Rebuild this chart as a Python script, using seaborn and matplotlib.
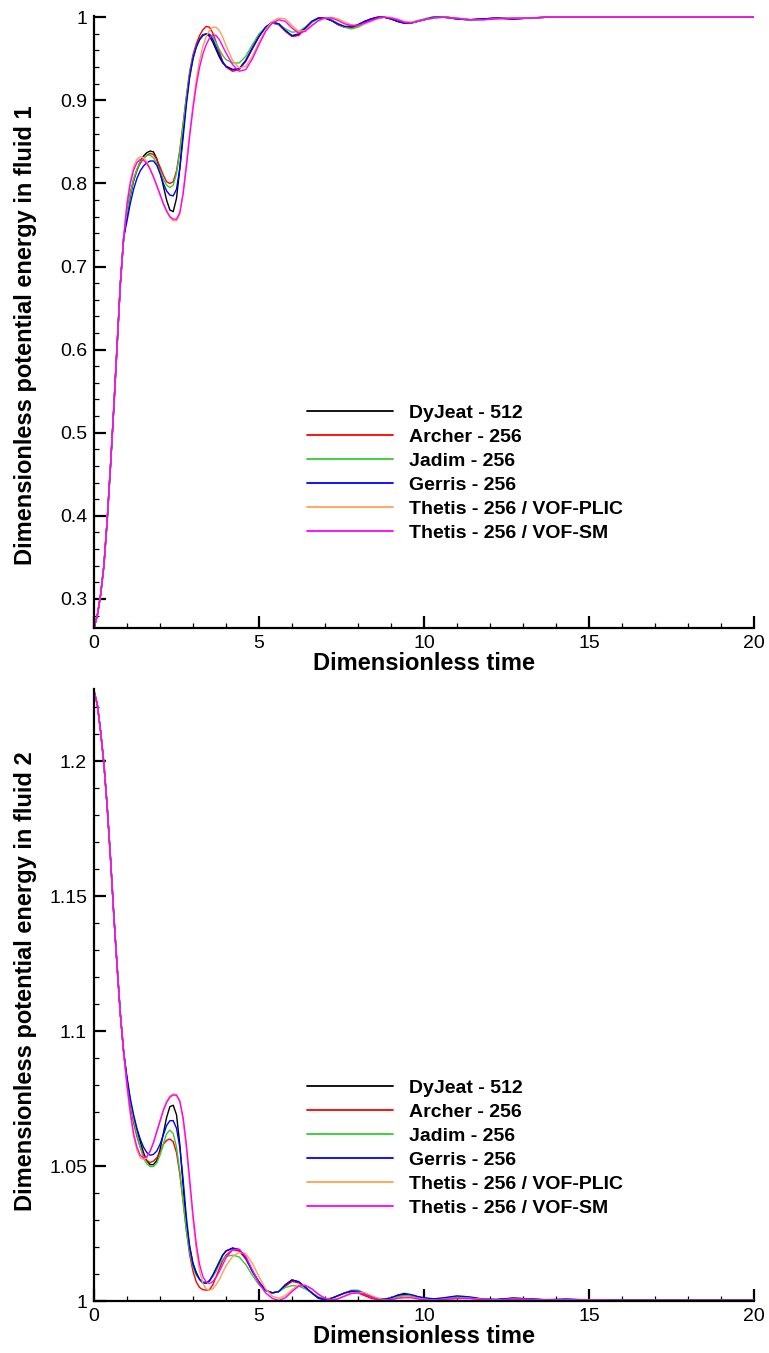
import pandas as pd
import matplotlib
matplotlib.use("Agg")
import matplotlib.pyplot as plt
import seaborn as sns
from matplotlib.ticker import MultipleLocator, FuncFormatter

sns.set_theme(style="ticks")
plt.rcParams["font.family"] = ["Liberation Sans", "DejaVu Sans"]
plt.rcParams["text.color"] = "black"
plt.rcParams["axes.labelcolor"] = "black"
plt.rcParams["xtick.color"] = "black"
plt.rcParams["ytick.color"] = "black"

# time grid (shared by all series)
t_rise = [0.0, 0.1, 0.2, 0.3, 0.4, 0.5, 0.6, 0.7, 0.8, 0.9]
t_osc = [1.0, 1.1, 1.2, 1.3, 1.4, 1.5, 1.6, 1.7, 1.8, 1.9,
         2.0, 2.1, 2.2, 2.3, 2.4, 2.5, 2.6, 2.7, 2.8, 2.9,
         3.0, 3.1, 3.2, 3.3, 3.4, 3.5, 3.6, 3.7, 3.8, 3.9, 4.0]
t_late = [4.2, 4.4, 4.6, 4.8, 5.0, 5.2, 5.4, 5.6, 5.8, 6.0,
          6.2, 6.4, 6.6, 6.8, 7.0, 7.2, 7.4, 7.6, 7.8, 8.0,
          8.2, 8.4, 8.6, 8.8, 9.0, 9.2, 9.4, 9.6, 9.8]
t_tail = [10.0, 10.3, 10.6, 11.0, 11.4, 11.8, 12.2, 12.7, 13.2, 13.7,
          14.3, 15.0, 16.0, 17.0, 18.0, 19.0, 20.0]
time = t_rise + t_osc + t_late + t_tail

labels = ["DyJeat - 512", "Archer - 256", "Jadim - 256", "Gerris - 256",
          "Thetis - 256 / VOF-PLIC", "Thetis - 256 / VOF-SM"]
colors = ["black", "#ff0000", "#33cc33", "#0000ff", "#ffa050", "#ff00ff"]

# ---------------- fluid 1 ----------------
rise1 = [0.265, 0.28, 0.305, 0.34, 0.395, 0.46, 0.53, 0.605, 0.68, 0.735]

f1_dyjeat = rise1 + [
    0.762, 0.785, 0.803, 0.816, 0.826, 0.833, 0.837, 0.839, 0.838, 0.830,
    0.815, 0.797, 0.780, 0.768, 0.766, 0.782, 0.818, 0.862, 0.900, 0.930,
    0.951, 0.965, 0.974, 0.979, 0.980, 0.977, 0.970, 0.961, 0.952, 0.945, 0.941] + [
    0.937, 0.938, 0.948, 0.963, 0.977, 0.988, 0.994, 0.992, 0.984, 0.977,
    0.979, 0.987, 0.995, 0.999, 0.999, 0.996, 0.991, 0.988, 0.988, 0.991,
    0.995, 0.998, 1.0, 1.0, 0.998, 0.995, 0.993, 0.993, 0.995] + [
    0.997, 1.0, 1.001, 0.998, 0.997, 0.998, 0.999, 0.998, 0.999, 1.0,
    1.0, 1.0, 1.0, 1.0, 1.0, 1.0, 1.0]

f1_archer = rise1 + [
    0.765, 0.788, 0.805, 0.816, 0.824, 0.830, 0.834, 0.836, 0.835, 0.829,
    0.820, 0.810, 0.802, 0.800, 0.802, 0.815, 0.840, 0.872, 0.905, 0.935,
    0.955, 0.968, 0.978, 0.985, 0.989, 0.988, 0.981, 0.970, 0.958, 0.947, 0.940] + [
    0.935, 0.937, 0.947, 0.962, 0.977, 0.988, 0.993, 0.991, 0.983, 0.977,
    0.978, 0.986, 0.994, 0.999, 0.999, 0.996, 0.991, 0.988, 0.987, 0.990,
    0.994, 0.998, 1.0, 1.0, 0.998, 0.995, 0.993, 0.993, 0.995] + [
    0.997, 1.0, 1.0, 0.998, 0.997, 0.998, 0.999, 0.998, 0.999, 1.0,
    1.0, 1.0, 1.0, 1.0, 1.0, 1.0, 1.0]

f1_jadim = rise1 + [
    0.765, 0.787, 0.805, 0.817, 0.826, 0.831, 0.834, 0.834, 0.831, 0.824,
    0.815, 0.805, 0.798, 0.795, 0.798, 0.812, 0.838, 0.870, 0.903, 0.932,
    0.952, 0.965, 0.973, 0.978, 0.980, 0.980, 0.976, 0.969, 0.961, 0.954, 0.949] + [
    0.945, 0.945, 0.953, 0.967, 0.980, 0.988, 0.993, 0.992, 0.986, 0.982,
    0.983, 0.988, 0.994, 0.998, 0.999, 0.997, 0.992, 0.988, 0.986, 0.988,
    0.992, 0.996, 0.999, 1.0, 0.999, 0.996, 0.994, 0.994, 0.996] + [
    0.998, 1.001, 1.001, 0.998, 0.996, 0.997, 0.999, 0.999, 0.999, 1.0,
    1.0, 1.0, 1.0, 1.0, 1.0, 1.0, 1.0]

f1_gerris = rise1 + [
    0.755, 0.776, 0.793, 0.806, 0.815, 0.821, 0.825, 0.827, 0.827, 0.822,
    0.812, 0.800, 0.791, 0.786, 0.785, 0.793, 0.818, 0.855, 0.895, 0.928,
    0.950, 0.964, 0.973, 0.978, 0.980, 0.979, 0.973, 0.964, 0.954, 0.946, 0.941] + [
    0.937, 0.938, 0.948, 0.963, 0.977, 0.988, 0.994, 0.992, 0.984, 0.978,
    0.980, 0.987, 0.995, 0.999, 0.999, 0.996, 0.992, 0.989, 0.989, 0.991,
    0.995, 0.998, 1.0, 1.0, 0.998, 0.995, 0.993, 0.993, 0.995] + [
    0.997, 1.0, 1.0, 0.998, 0.997, 0.998, 0.999, 0.998, 0.999, 1.0,
    1.0, 1.0, 1.0, 1.0, 1.0, 1.0, 1.0]

f1_plic = rise1 + [
    0.778, 0.803, 0.820, 0.829, 0.832, 0.831, 0.826, 0.818, 0.808, 0.797,
    0.786, 0.775, 0.766, 0.759, 0.755, 0.755, 0.763, 0.790, 0.825, 0.862,
    0.895, 0.925, 0.948, 0.965, 0.977, 0.984, 0.988, 0.988, 0.984, 0.976, 0.966] + [
    0.948, 0.939, 0.941, 0.953, 0.970, 0.985, 0.995, 0.999, 0.998, 0.990,
    0.983, 0.984, 0.990, 0.996, 0.999, 1.0, 0.998, 0.994, 0.991, 0.990,
    0.992, 0.995, 0.998, 1.0, 1.0, 0.998, 0.995, 0.994, 0.995] + [
    0.997, 0.999, 1.0, 0.999, 0.997, 0.997, 0.998, 0.999, 0.999, 1.0,
    1.0, 1.0, 1.0, 1.0, 1.0, 1.0, 1.0]

f1_sm = rise1 + [
    0.775, 0.800, 0.816, 0.825, 0.829, 0.828, 0.824, 0.817, 0.808, 0.798,
    0.787, 0.776, 0.767, 0.760, 0.757, 0.757, 0.765, 0.787, 0.820, 0.857,
    0.890, 0.918, 0.940, 0.956, 0.967, 0.975, 0.979, 0.978, 0.973, 0.965, 0.957] + [
    0.943, 0.935, 0.937, 0.950, 0.967, 0.983, 0.993, 0.997, 0.995, 0.987,
    0.981, 0.983, 0.990, 0.996, 0.999, 0.999, 0.996, 0.992, 0.990, 0.990,
    0.993, 0.996, 0.999, 1.0, 0.999, 0.997, 0.994, 0.993, 0.995] + [
    0.997, 0.999, 1.0, 0.999, 0.997, 0.997, 0.998, 0.999, 0.999, 1.0,
    1.0, 1.0, 1.0, 1.0, 1.0, 1.0, 1.0]

# ---------------- fluid 2 ----------------
rise2 = [1.226, 1.221, 1.211, 1.199, 1.183, 1.164, 1.143, 1.124, 1.106, 1.092]

f2_dyjeat = rise2 + [
    1.082, 1.074, 1.068, 1.063, 1.059, 1.055, 1.052, 1.0505, 1.0505, 1.052,
    1.056, 1.062, 1.068, 1.072, 1.0725, 1.069, 1.058, 1.043, 1.028, 1.020,
    1.014, 1.0105, 1.008, 1.0067, 1.0066, 1.0075, 1.0095, 1.012, 1.0145, 1.017, 1.0185] + [
    1.0196, 1.019, 1.016, 1.011, 1.007, 1.004, 1.003, 1.0035, 1.006, 1.0078,
    1.007, 1.005, 1.003, 1.001, 1.0005, 1.001, 1.002, 1.003, 1.0037, 1.0035,
    1.0025, 1.0015, 1.0007, 1.0005, 1.001, 1.002, 1.0025, 1.002, 1.0015] + [
    1.001, 1.0006, 1.0008, 1.0015, 1.0012, 1.0006, 1.0005, 1.001, 1.0007, 1.0004,
    1.0006, 1.0004, 1.0003, 1.0003, 1.0003, 1.0003, 1.0003]

f2_archer = rise2 + [
    1.081, 1.073, 1.066, 1.061, 1.057, 1.054, 1.052, 1.0513, 1.0518, 1.053,
    1.055, 1.058, 1.0595, 1.060, 1.059, 1.055, 1.047, 1.037, 1.026, 1.017,
    1.011, 1.007, 1.005, 1.0042, 1.004, 1.0042, 1.006, 1.009, 1.012, 1.015, 1.017] + [
    1.019, 1.0185, 1.0155, 1.011, 1.007, 1.004, 1.003, 1.0035, 1.0055, 1.0072,
    1.0068, 1.005, 1.003, 1.0012, 1.0005, 1.001, 1.002, 1.003, 1.0033, 1.003,
    1.002, 1.001, 1.0005, 1.0005, 1.001, 1.0018, 1.002, 1.0018, 1.0012] + [
    1.0007, 1.0004, 1.0006, 1.0012, 1.001, 1.0005, 1.0004, 1.0008, 1.0005, 1.0003,
    1.0004, 1.0003, 1.0002, 1.0002, 1.0002, 1.0002, 1.0002]

f2_jadim = rise2 + [
    1.082, 1.074, 1.067, 1.062, 1.057, 1.053, 1.0508, 1.0498, 1.0498, 1.051,
    1.054, 1.058, 1.062, 1.0633, 1.062, 1.057, 1.048, 1.037, 1.026, 1.018,
    1.0125, 1.0095, 1.008, 1.0072, 1.007, 1.0075, 1.009, 1.011, 1.0135, 1.0155, 1.0165] + [
    1.017, 1.0163, 1.0135, 1.0095, 1.006, 1.0038, 1.003, 1.0035, 1.005, 1.0057,
    1.0055, 1.0045, 1.003, 1.0015, 1.0008, 1.001, 1.002, 1.003, 1.004, 1.004,
    1.003, 1.0018, 1.001, 1.0008, 1.001, 1.0015, 1.002, 1.002, 1.0015] + [
    1.001, 1.0007, 1.001, 1.0016, 1.0012, 1.0006, 1.0005, 1.001, 1.0007, 1.0004,
    1.0005, 1.0004, 1.0003, 1.0003, 1.0003, 1.0003, 1.0003]

f2_gerris = rise2 + [
    1.083, 1.075, 1.069, 1.064, 1.060, 1.057, 1.055, 1.054, 1.0543, 1.0555,
    1.058, 1.0615, 1.065, 1.0668, 1.0668, 1.064, 1.057, 1.045, 1.031, 1.020,
    1.0135, 1.0102, 1.008, 1.0068, 1.0066, 1.0075, 1.0095, 1.012, 1.0145, 1.017, 1.0185] + [
    1.0196, 1.019, 1.016, 1.011, 1.007, 1.004, 1.003, 1.0035, 1.006, 1.0078,
    1.0072, 1.0052, 1.003, 1.0012, 1.0006, 1.001, 1.002, 1.003, 1.0037, 1.0036,
    1.0027, 1.0017, 1.0009, 1.0007, 1.0012, 1.0022, 1.0028, 1.0024, 1.0017] + [
    1.0012, 1.0008, 1.0012, 1.0019, 1.0015, 1.0007, 1.0006, 1.0011, 1.0008, 1.0005,
    1.0007, 1.0004, 1.0003, 1.0003, 1.0003, 1.0003, 1.0003]

f2_plic = rise2 + [
    1.079, 1.069, 1.061, 1.056, 1.053, 1.0525, 1.053, 1.0555, 1.059, 1.063,
    1.067, 1.071, 1.074, 1.076, 1.0767, 1.0765, 1.074, 1.067, 1.056, 1.043,
    1.030, 1.019, 1.011, 1.0065, 1.0045, 1.004, 1.0045, 1.006, 1.008, 1.0105, 1.013] + [
    1.0165, 1.018, 1.0175, 1.014, 1.009, 1.0045, 1.0018, 1.001, 1.002, 1.0042,
    1.0058, 1.0058, 1.0045, 1.0025, 1.001, 1.0005, 1.001, 1.002, 1.003, 1.0032,
    1.003, 1.002, 1.001, 1.0005, 1.0005, 1.001, 1.0015, 1.0015, 1.001] + [
    1.0006, 1.0004, 1.0006, 1.001, 1.001, 1.0006, 1.0004, 1.0007, 1.0006, 1.0003,
    1.0004, 1.0003, 1.0002, 1.0002, 1.0002, 1.0002, 1.0002]

f2_sm = rise2 + [
    1.080, 1.070, 1.062, 1.057, 1.054, 1.053, 1.0535, 1.0555, 1.0585, 1.0625,
    1.0665, 1.0705, 1.0735, 1.0755, 1.0763, 1.0762, 1.074, 1.068, 1.058, 1.045,
    1.032, 1.021, 1.0135, 1.009, 1.007, 1.0065, 1.0072, 1.0088, 1.011, 1.0135, 1.016] + [
    1.019, 1.0192, 1.0165, 1.0115, 1.0065, 1.003, 1.001, 1.0002, 1.0012, 1.0035,
    1.0055, 1.0058, 1.0045, 1.0025, 1.001, 1.0003, 1.0008, 1.0018, 1.0028, 1.003,
    1.0025, 1.0015, 1.0006, 1.0003, 1.0005, 1.001, 1.0012, 1.0012, 1.0008] + [
    1.0004, 1.0003, 1.0005, 1.0009, 1.0009, 1.0005, 1.0003, 1.0006, 1.0005, 1.0003,
    1.0004, 1.0003, 1.0002, 1.0002, 1.0002, 1.0002, 1.0002]


def to_long(series_list):
    frames = []
    for name, vals in zip(labels, series_list):
        frames.append(pd.DataFrame({"t": time, "E": vals, "series": name}))
    return pd.concat(frames, ignore_index=True)


df1 = to_long([f1_dyjeat, f1_archer, f1_jadim, f1_gerris, f1_plic, f1_sm])
df2 = to_long([f2_dyjeat, f2_archer, f2_jadim, f2_gerris, f2_plic, f2_sm])
palette = dict(zip(labels, colors))

W, H = 769, 1353
fig = plt.figure(figsize=(W / 100, H / 100), dpi=100)
ax1 = fig.add_axes([94 / W, 1 - 628 / H, 660 / W, 612 / H])
ax2 = fig.add_axes([94 / W, 1 - 1301 / H, 660 / W, 612 / H])

fmt = FuncFormatter(lambda v, p: f"{v:g}")


def style_axis(ax, df, ylim, ymajor, yminor, ylabel, label_y, leg_y):
    sns.lineplot(data=df, x="t", y="E", hue="series", palette=palette,
                 estimator=None, sort=False, linewidth=1.0, ax=ax)
    ax.set_xlim(0, 20)
    ax.set_ylim(*ylim)
    ax.xaxis.set_major_locator(MultipleLocator(5))
    ax.xaxis.set_minor_locator(MultipleLocator(1))
    ax.yaxis.set_major_locator(MultipleLocator(ymajor))
    ax.yaxis.set_minor_locator(MultipleLocator(yminor))
    ax.yaxis.set_major_formatter(fmt)
    ax.xaxis.set_major_formatter(fmt)
    for s in ["top", "right"]:
        ax.spines[s].set_visible(False)
    for s in ["left", "bottom"]:
        ax.spines[s].set_linewidth(1.6)
        ax.spines[s].set_color("black")
    ax.tick_params(which="major", direction="in", length=8.5, width=1.6,
                   labelsize=14, pad=5)
    ax.tick_params(which="minor", direction="in", length=3.5, width=0.9)
    ax.set_xlabel("Dimensionless time", fontsize=17, fontweight="bold",
                  labelpad=0)
    ax.set_ylabel(ylabel, fontsize=17, fontweight="bold")
    ax.yaxis.set_label_coords(-0.086, label_y)
    handles, labs = ax.get_legend_handles_labels()
    for h in handles:
        h.set_linewidth(1.3)
    ax.legend(handles, labs, loc="center left", bbox_to_anchor=(0.3227, leg_y),
              frameon=False, prop={"weight": "bold", "size": 14},
              handlelength=4.4, handletextpad=0.85, labelspacing=0.33,
              borderpad=0, borderaxespad=0)


style_axis(ax1, df1, (0.265, 1.0015), 0.1, 0.02,
           "Dimensionless potential energy in fluid 1", 0.479, 0.2533)
style_axis(ax2, df2, (1.0, 1.2267), 0.05, 0.01,
           "Dimensionless potential energy in fluid 2", 0.523, 0.25)

fig.savefig("out.png", dpi=100)
